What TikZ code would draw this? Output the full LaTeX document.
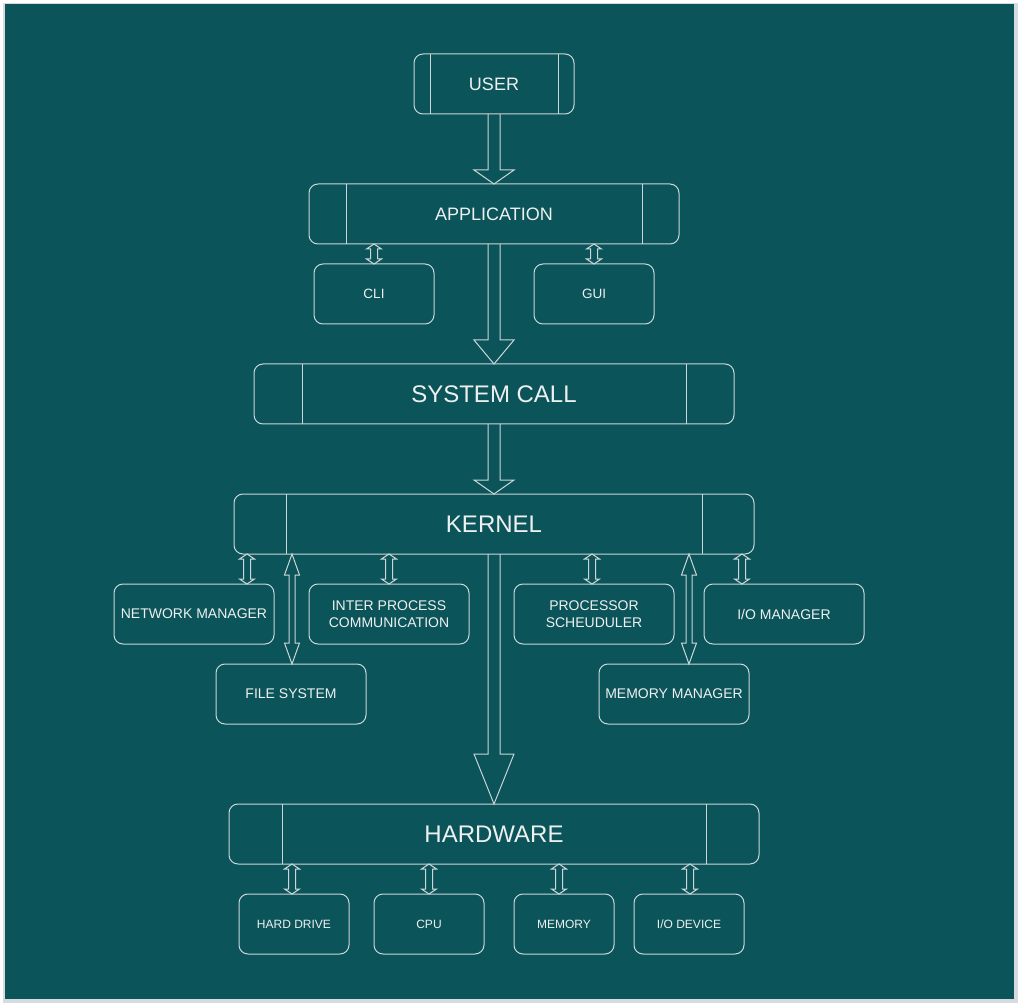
\documentclass[tikz,border=0pt]{standalone}
\usepackage{fontspec}
\setmainfont{Liberation Sans}
\usetikzlibrary{calc}
\definecolor{bgteal}{RGB}{11,85,90}
\definecolor{edgecol}{RGB}{205,214,216}
\definecolor{txtcol}{RGB}{238,240,240}
\definecolor{framecol}{RGB}{214,219,223}
\newcommand{\bigarrow}[3]{%
  \draw[arrline] ($(#1.south)+(-6,0)$) -- ($(#2.north)+(-6,-#3)$) -- ($(#2.north)+(-20,-#3)$)
    -- (#2.north) -- ($(#2.north)+(20,-#3)$) -- ($(#2.north)+(6,-#3)$) -- ($(#1.south)+(6,0)$);}
\newcommand{\dblarrow}[5]{%
  \coordinate (dT) at (#1);
  \coordinate (dB) at (#2);
  \draw[arrline] (dT) -- ($(dT)+(#4,#5)$) -- ($(dT)+(#3,#5)$) -- ($(dB)+(#3,-#5)$) -- ($(dB)+(#4,-#5)$)
    -- (dB) -- ($(dB)+(-#4,-#5)$) -- ($(dB)+(-#3,-#5)$) -- ($(dT)+(-#3,#5)$) -- ($(dT)+(-#4,#5)$) -- cycle;}
\begin{document}
\begin{tikzpicture}[x=1pt,y=-1pt,
  box/.style={draw=edgecol, line width=1pt, rounded corners=9pt, text=txtcol,
    inner sep=0pt, outer sep=0pt, align=center, minimum height=60pt},
  proc/.style={box, path picture={
    \draw[edgecol, line width=1pt]
      ([xshift=#1]path picture bounding box.north west) -- ([xshift=#1]path picture bounding box.south west)
      ([xshift=-#1]path picture bounding box.north east) -- ([xshift=-#1]path picture bounding box.south east);}},
  arrline/.style={draw=edgecol, line width=1pt, line join=miter},
  fbig/.style={font=\fontsize{24}{28}\selectfont},
  fmid/.style={font=\fontsize{18}{22}\selectfont},
  fsm/.style={font=\fontsize{14}{16.5}\selectfont},
  fcl/.style={font=\fontsize{13.5}{16}\selectfont},
  fxs/.style={font=\fontsize{12}{14}\selectfont}]
\useasboundingbox (0,0) rectangle (1021,1008);
\fill[white] (0,0) rectangle (1021,1008);
\fill[framecol] (3,3) rectangle (1017.5,1002.5);
\fill[bgteal] (4.5,4.5) rectangle (1014,999);

% top nodes
\node[proc=16pt, fmid, minimum width=160pt] (user) at (494,84) {USER};
\node[proc=37pt, fmid, minimum width=370pt] (app) at (494,214) {APPLICATION};
\node[box, fcl, minimum width=120pt] (cli) at (374,294) {CLI};
\node[box, fcl, minimum width=120pt] (gui) at (594,294) {GUI};
\node[proc=48pt, fbig, minimum width=480pt] (sc) at (494,394) {SYSTEM CALL};
\node[proc=52pt, fbig, minimum width=520pt] (kernel) at (494,524) {KERNEL};

% kernel modules
\node[box, fsm, minimum width=160pt] (netmgr) at (194,614) {NETWORK MANAGER};
\node[box, fsm, minimum width=160pt] (ipc) at (389,614) {INTER PROCESS\\COMMUNICATION};
\node[box, fsm, minimum width=160pt] (procs) at (594,614) {PROCESSOR\\SCHEUDULER};
\node[box, fsm, minimum width=160pt] (iom) at (784,614) {I/O MANAGER};
\node[box, fsm, minimum width=150pt] (fs) at (291,694) {FILE SYSTEM};
\node[box, fsm, minimum width=150pt] (mm) at (674,694) {MEMORY MANAGER};

% hardware
\node[proc=53pt, fbig, minimum width=530pt] (hw) at (494,834) {HARDWARE};
\node[box, fxs, minimum width=110pt] (hd) at (294,924) {HARD DRIVE};
\node[box, fxs, minimum width=110pt] (cpu) at (429,924) {CPU};
\node[box, fxs, minimum width=100pt] (mem) at (564,924) {MEMORY};
\node[box, fxs, minimum width=110pt] (iod) at (689,924) {I/O DEVICE};

% big arrows
\bigarrow{user}{app}{14}
\bigarrow{app}{sc}{24}
\bigarrow{sc}{kernel}{14}
\bigarrow{kernel}{hw}{50}

% small double arrows
\dblarrow{cli.north |- app.south}{cli.north}{3.5}{7.5}{5}
\dblarrow{gui.north |- app.south}{gui.north}{3.5}{7.5}{5}
\dblarrow{$(netmgr.north |- kernel.south)+(53,0)$}{$(netmgr.north)+(53,0)$}{3.5}{7.5}{5}
\dblarrow{ipc.north |- kernel.south}{ipc.north}{3.5}{7.5}{5}
\dblarrow{$(procs.north |- kernel.south)+(-2,0)$}{$(procs.north)+(-2,0)$}{3.5}{7.5}{5}
\dblarrow{$(iom.north |- kernel.south)+(-42,0)$}{$(iom.north)+(-42,0)$}{3.5}{7.5}{5}
\dblarrow{$(fs.north |- kernel.south)+(1,0)$}{$(fs.north)+(1,0)$}{3}{7.5}{21}
\dblarrow{$(mm.north |- kernel.south)+(15,0)$}{$(mm.north)+(15,0)$}{3}{7.5}{21}
\dblarrow{$(hd.north |- hw.south)+(-2,0)$}{$(hd.north)+(-2,0)$}{3.5}{7.5}{5}
\dblarrow{cpu.north |- hw.south}{cpu.north}{3.5}{7.5}{5}
\dblarrow{$(mem.north |- hw.south)+(-5,0)$}{$(mem.north)+(-5,0)$}{3.5}{7.5}{5}
\dblarrow{$(iod.north |- hw.south)+(1,0)$}{$(iod.north)+(1,0)$}{3.5}{7.5}{5}
\end{tikzpicture}
\end{document}
